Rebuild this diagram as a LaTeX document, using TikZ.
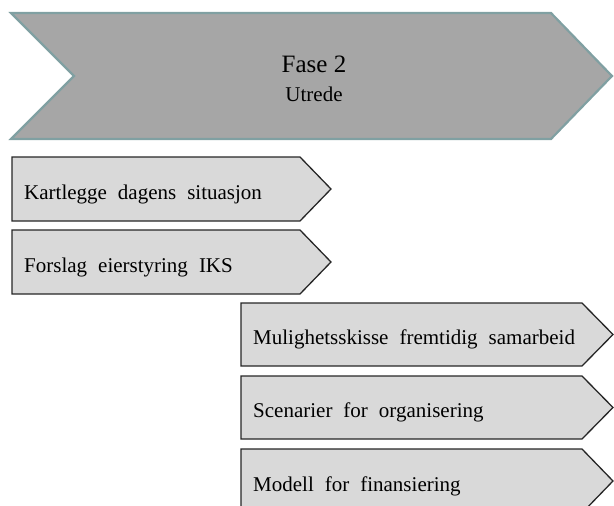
\documentclass[tikz,border=0pt]{standalone}
\usepackage{fontspec}
\setmainfont{Liberation Serif}
\definecolor{chevfill}{RGB}{166,166,166}
\definecolor{chevline}{RGB}{128,160,162}
\definecolor{boxfill}{RGB}{217,217,217}
\definecolor{boxline}{RGB}{38,38,38}
\tikzset{
  chevshape/.style={fill=chevfill,draw=chevline,line width=2.2pt,line join=miter},
  stepshape/.style={fill=boxfill,draw=boxline,line width=1.3pt,line join=miter},
  steplabel/.style={anchor=west,inner sep=0pt,text=black,
     font={\fontsize{21}{24}\selectfont\spaceskip=11pt plus 1pt\relax}},
}
\begin{document}
\begin{tikzpicture}[x=1pt,y=-1pt]
\useasboundingbox (0,0) rectangle (614,506);
\clip (0,0) rectangle (614,506);
% big chevron
\draw[chevshape] (11,13) -- (551,13) -- (612,76) -- (551,139) -- (11,139) -- (74,76) -- cycle;
\node[inner sep=0pt,font=\fontsize{25}{28}\selectfont] (fase) at (314,64) {Fase 2};
\node[inner sep=0pt,font=\fontsize{21}{23}\selectfont] (utrede) at (314,94) {Utrede};
% steps
\newcommand{\stepbox}[4]{%
  \draw[stepshape] (#1,#2) -- (#3,#2) -- ({#3+31},{(#2+#4)/2}) -- (#3,#4) -- (#1,#4) -- cycle;}
\stepbox{12}{157}{300}{221}
\stepbox{12}{230}{300}{294}
\stepbox{241}{303}{582}{366}
\stepbox{241}{376}{582}{439}
\stepbox{241}{449}{582}{513}
\node[steplabel] (s1) at (24,194) {Kartlegge dagens situasjon};
\node[steplabel] (s2) at (24,267) {Forslag eierstyring IKS};
\node[steplabel] (s3) at (253,339) {Mulighetsskisse fremtidig samarbeid};
\node[steplabel] (s4) at (253,412) {Scenarier for organisering};
\node[steplabel] (s5) at (253,486) {Modell for finansiering};
\end{tikzpicture}
\end{document}
